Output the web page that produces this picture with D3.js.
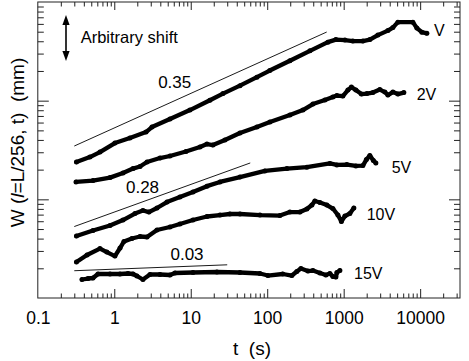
<!DOCTYPE html>
<html><head><meta charset="utf-8">
<script src="https://cdn.jsdelivr.net/npm/d3@7"></script>
<style>
html,body{margin:0;padding:0;background:#fff;}
svg{display:block;font-family:"Liberation Sans",Arial,Helvetica,sans-serif;}
</style></head>
<body><svg id="c" width="469" height="361"></svg>
<script>
// ---- data (t in s, W in arbitrary shifted units) ----
const seriesNames = ["V","2V","5V","10V","15V"];
const dataV = [[0.32,23.9],[0.48,26.8],[0.65,30.1],[1.02,37.2],[1.6,41.8],[2.6,48.1],[3.11,54.0],[5.35,65.1],[9.76,80.3],[17.8,101],[26.4,118],[44,142],[73.3,173],[108,202],[198,254],[362,320],[621,392],[791,416],[1037,411],[1319,402],[1783,402],[2199,416],[2799,462],[3784,513],[4399,550],[5114,625],[8033,625],[9057,544],[10520,495],[12240,481]];
const data2V = [[0.316,15.0],[0.527,15.5],[0.879,16.6],[1.30,18.5],[1.76,20.5],[2.17,21.5],[2.68,23.9],[3.96,26.2],[5.35,27.5],[8.65,30.5],[13.2,33.9],[16.3,36.3],[19.5,35.5],[28,39.9],[44,47],[73.3,54],[108.5,60.7],[198,71.5],[293,80.3],[396,92.4],[568,101.4],[722,108.8],[815,112.6],[976,111.3],[1135,128],[1261,137.3],[1444,128],[1703,116.7],[2010,118],[2408,120.8],[2973,129.6],[3456,122.2],[3784,114],[4399,122.2],[5114,116.7],[6123,120.8]];
const data5V = [[0.32,4.25],[0.527,4.83],[0.879,5.43],[1.30,6.17],[1.865,7.18],[2.37,7.70],[2.84,7.43],[3.62,8.17],[4.89,9.39],[7.22,10.55],[10.7,11.86],[16.3,13.6],[24.1,15.0],[44,16.8],[93.3,19.4],[181,20.5],[330,21.2],[660,23.1],[815,22.3],[1101,22.5],[1444,21.8],[1783,22.0],[1981,25.3],[2199,27.8],[2445,24.7],[2636,23.3]];
const data10V = [[0.32,2.32],[0.44,2.73],[0.65,3.17],[0.80,2.92],[1.02,2.66],[1.19,3.21],[1.34,3.74],[1.70,4.01],[2.17,4.20],[2.68,4.15],[3.62,4.89],[5.35,5.24],[7.22,5.62],[10.7,6.17],[16.3,6.70],[24.1,6.93],[32.5,7.10],[44,7.10],[80.3,6.93],[146.6,6.85],[198,7.43],[268,7.43],[330,7.97],[384,8.75],[420,9.61],[489,9.28],[603,8.75],[722,8.07],[840,6.93],[933,5.96],[1037,6.77],[1205,7.18],[1359,8.17]];
const data15V = [[0.378,1.54],[0.453,1.576],[0.527,1.595],[0.612,1.751],[0.879,1.751],[1.187,1.751],[1.51,1.771],[1.76,1.751],[1.98,1.671],[2.37,1.54],[2.93,1.73],[3.96,1.73],[5.35,1.71],[6.22,1.792],[10.7,1.813],[22,1.834],[44,1.813],[80.3,1.771],[102,1.69],[160,1.751],[210,1.69],[244,1.855],[276,1.99],[340,1.877],[396,1.899],[489,1.792],[585,1.71],[660,1.771],[722,1.651],[791,1.632],[815,1.813],[892,1.899]];
const slopeLabels = ["0.35","0.28","0.03"];
const slopeExp = [0.35,0.28,0.03];
const slopeT0 = [0.3,0.3,0.3];
const slopeT1 = [600,60,30];
const slopeW0 = [34.7,5.30,1.89];
const xTickLabels = [0.1,1,10,100,1000,10000];

// ---- layout ----
const svg = d3.select("#c");
const L = 37.8, R = 460, T = 2, B = 298;
const x = d3.scaleLog().domain([0.1, 33200]).range([L, R]);
const y = d3.scaleLog().domain([1, 1000]).range([B, T]);

function minorVals(lo, hi){
  const v=[]; for(let e=lo;e<hi;e++){ for(let m=1;m<=9;m++){ v.push(m*Math.pow(10,e)); } }
  return v;
}
const xTicks = minorVals(-1,5).filter(v=>v>0.1*1.0001 && v<33000);
const yTicks = minorVals(0,3).filter(v=>v>1.0001 && v<999);
const isMajor = v => Math.abs(Math.log10(v)-Math.round(Math.log10(v)))<1e-6;

// frame
svg.append("rect").attr("x",L).attr("y",T).attr("width",R-L).attr("height",B-T)
  .attr("fill","none").attr("stroke","#222").attr("stroke-width",1);

function styleAxis(g, majorLen, minorLen, dir){
  g.select(".domain").remove();
  g.selectAll(".tick line").attr("stroke","#222").each(function(d){
    const len = isMajor(d)?majorLen:minorLen;
    const el = d3.select(this);
    if(dir==="x") el.attr("y2", len); else el.attr("x2", len);
  });
}
// bottom
const gb = svg.append("g").attr("transform",`translate(0,${B})`)
  .call(d3.axisBottom(x).tickValues(xTicks).tickFormat(""));
styleAxis(gb,-9,-4.5,"x"); gb.selectAll("text").remove();
// bottom labels
const gl = svg.append("g").attr("transform",`translate(0,${B})`)
  .call(d3.axisBottom(x).tickValues(xTickLabels).tickSize(0).tickFormat(d3.format("")));
gl.select(".domain").remove();
gl.selectAll("text").attr("y",26).attr("dy",null).attr("fill","#000")
  .style("font-size","17.5px").style("font-family","'Liberation Sans',Arial,sans-serif");
// top
const gt = svg.append("g").attr("transform",`translate(0,${T})`)
  .call(d3.axisTop(x).tickValues(xTicks).tickFormat(""));
styleAxis(gt,8,4.5,"x"); gt.selectAll("text").remove();
// left
const gL = svg.append("g").attr("transform",`translate(${L},0)`)
  .call(d3.axisLeft(y).tickValues(yTicks).tickFormat(""));
styleAxis(gL,11,6,"y"); gL.selectAll("text").remove();
// right
const gR = svg.append("g").attr("transform",`translate(${R},0)`)
  .call(d3.axisRight(y).tickValues(yTicks).tickFormat(""));
styleAxis(gR,-11,-6,"y"); gR.selectAll("text").remove();

// axis titles
svg.append("text").attr("x",252).attr("y",355).attr("text-anchor","middle")
  .style("font-size","19px").style("white-space","pre").text("t  (s)");
const yl = svg.append("text").attr("transform","translate(23.5,142.5) rotate(-90)")
  .attr("text-anchor","middle").style("font-size","19px").style("white-space","pre");
yl.append("tspan").text("W (");
yl.append("tspan").style("font-style","italic").text("l");
yl.append("tspan").text("=L/256, t)  (mm)");

// slope reference lines
const plot = svg.append("g");
slopeExp.forEach((p,i)=>{
  const w1 = slopeW0[i]*Math.pow(slopeT1[i]/slopeT0[i], p);
  plot.append("line").attr("x1",x(slopeT0[i])).attr("y1",y(slopeW0[i]))
    .attr("x2",x(slopeT1[i])).attr("y2",y(w1)).attr("stroke","#000").attr("stroke-width",0.9);
});
const slopePos = [[174.7,87.7],[142.5,193.3],[187,260]];
slopeLabels.forEach((s,i)=>{
  svg.append("text").attr("x",slopePos[i][0]).attr("y",slopePos[i][1]).attr("text-anchor","middle")
    .style("font-size","17px").text(s);
});

// series
const allSeries = [dataV,data2V,data5V,data10V,data15V];
const line = d3.line().x(d=>x(d[0])).y(d=>y(d[1]));
allSeries.forEach(ds=>{
  plot.append("path").attr("d",line(ds)).attr("fill","none").attr("stroke","#000")
    .attr("stroke-width",4.3).attr("stroke-linejoin","round").attr("stroke-linecap","round");
  plot.selectAll(null).data(ds).enter().append("circle")
    .attr("cx",d=>x(d[0])).attr("cy",d=>y(d[1])).attr("r",2.5).attr("fill","#000");
});
const labelPos = [[434,35.7],[416.7,100],[391.7,172.7],[366.7,220],[354,279]];
seriesNames.forEach((s,i)=>{
  svg.append("text").attr("x",labelPos[i][0]).attr("y",labelPos[i][1])
    .style("font-size","16px").text(s);
});

// arbitrary shift arrow
const ax = 66;
svg.append("line").attr("x1",ax).attr("y1",20).attr("x2",ax).attr("y2",56).attr("stroke","#000").attr("stroke-width",1.6);
svg.append("path").attr("d",`M${ax},15 L${ax-3.6},25 L${ax+3.6},25 Z`).attr("fill","#000");
svg.append("path").attr("d",`M${ax},61 L${ax-3.6},51 L${ax+3.6},51 Z`).attr("fill","#000");
svg.append("text").attr("x",80.7).attr("y",42.7).style("font-size","16.5px").text("Arbitrary shift");
</script></body></html>
